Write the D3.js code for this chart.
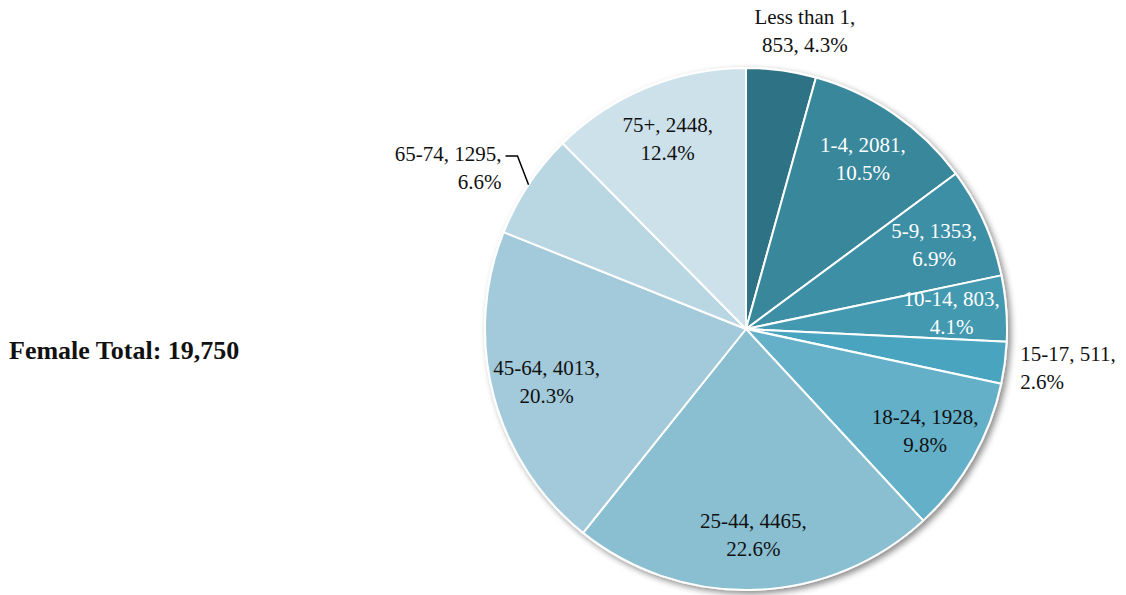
<!DOCTYPE html>
<html>
<head>
<meta charset="utf-8">
<script src="https://cdn.jsdelivr.net/npm/d3@7"></script>
<style>
  html, body { margin: 0; padding: 0; background: #fff; }
  svg { display: block; font-family: "Liberation Serif", "Times New Roman", serif; }
</style>
</head>
<body>
<svg id="chart" width="1126" height="595"></svg>
<script>
const categories = ["Less than 1", "1-4", "5-9", "10-14", "15-17", "18-24", "25-44", "45-64", "65-74", "75+"];
const values = [853, 2081, 1353, 803, 511, 1928, 4465, 4013, 1295, 2448];
const colors = ["#2f7385", "#37879b", "#3c8fa5", "#4299b0", "#49a5bf", "#63b0c8", "#89bfd1", "#a3cadb", "#b9d7e3", "#cce1ea"];
const whiteLabels = ["1-4", "5-9", "10-14"];
const outsideLabels = ["Less than 1", "15-17", "65-74"];
const titleText = "Female Total: ";

const W = 1126, H = 595;
const cx = 746, cy = 329, r = 261;
const total = d3.sum(values);

const svg = d3.select("#chart");
const defs = svg.append("defs");
const f = defs.append("filter").attr("id", "shadow").attr("x", "-10%").attr("y", "-10%").attr("width", "120%").attr("height", "120%");
f.append("feDropShadow").attr("dx", 3).attr("dy", 3).attr("stdDeviation", 3).attr("flood-color", "#000").attr("flood-opacity", 0.45);

const data = categories.map((c, i) => ({ cat: c, value: values[i], color: colors[i] }));
const pie = d3.pie().value(d => d.value).sort(null);
const arcs = pie(data);
const arc = d3.arc().innerRadius(0).outerRadius(r);

const g = svg.append("g").attr("transform", `translate(${cx},${cy})`);

g.append("g").attr("filter", "url(#shadow)")
  .selectAll("path").data(arcs).enter().append("path")
  .attr("d", arc)
  .attr("fill", d => d.data.color)
  .attr("stroke", "#fff")
  .attr("stroke-width", 2)
  .attr("stroke-linejoin", "round");

const pctFmt = v => (v / total * 100).toFixed(1) + "%";
function lines(d) {
  const c = d.data.cat, v = d.data.value, p = pctFmt(v);
  if (c.length > 6) return [c + ",", v + ", " + p];
  return [c + ", " + v + ",", p];
}

const fontSize = 21, lh = 28;
const inArc = d3.arc().innerRadius(r * 0.79).outerRadius(r * 0.79);

const labels = g.append("g").attr("font-size", fontSize);

arcs.forEach(d => {
  const L = lines(d);
  const mid = (d.startAngle + d.endAngle) / 2;
  if (!outsideLabels.includes(d.data.cat)) {
    const [x, y] = inArc.centroid(d);
    const t = labels.append("text")
      .attr("text-anchor", "middle")
      .attr("fill", whiteLabels.includes(d.data.cat) ? "#fff" : "#111");
    L.forEach((s, i) => {
      t.append("tspan").attr("x", x).attr("y", y + (i - (L.length - 1) / 2) * lh).attr("dy", "0.35em").text(s);
    });
  } else {
    const sx = Math.sin(mid), sy = -Math.cos(mid);
    let anchor, x, y, ys;
    if (Math.abs(sx) < 0.3) {
      // near the top: text block sits above the anchor point, nudged outward
      x = sx * r * 1.1 + 20; y = sy * r * 1.1;
      anchor = "middle";
      ys = L.map((s, i) => y - (L.length - 1 - i) * lh);
    } else if (sx > 0) {
      x = sx * r * 1.06; y = sy * r * 1.06 + 3;
      anchor = "start";
      ys = L.map((s, i) => y + (i - (L.length - 1) / 2) * lh);
    } else {
      const ex = sx * r, ey = sy * r;
      const kx = sx * r * 1.06 + 2, ky = sy * r * 1.06 - 20;
      const hx = kx - 12;
      labels.append("path")
        .attr("d", `M${ex},${ey}L${kx},${ky}L${hx},${ky}`)
        .attr("fill", "none").attr("stroke", "#000").attr("stroke-width", 1.5);
      x = hx - 4; y = ky - 2;
      anchor = "end";
      ys = L.map((s, i) => y + i * lh);
    }
    const t = labels.append("text").attr("text-anchor", anchor).attr("fill", "#111");
    L.forEach((s, i) => {
      t.append("tspan").attr("x", x).attr("y", ys[i]).attr("dy", "0.35em").text(s);
    });
  }
});

svg.append("text")
  .attr("x", 9).attr("y", 350)
  .attr("dy", "0.35em")
  .attr("font-size", 26)
  .attr("font-weight", "bold")
  .attr("fill", "#111")
  .text(titleText + d3.format(",")(total));
</script>
</body>
</html>
